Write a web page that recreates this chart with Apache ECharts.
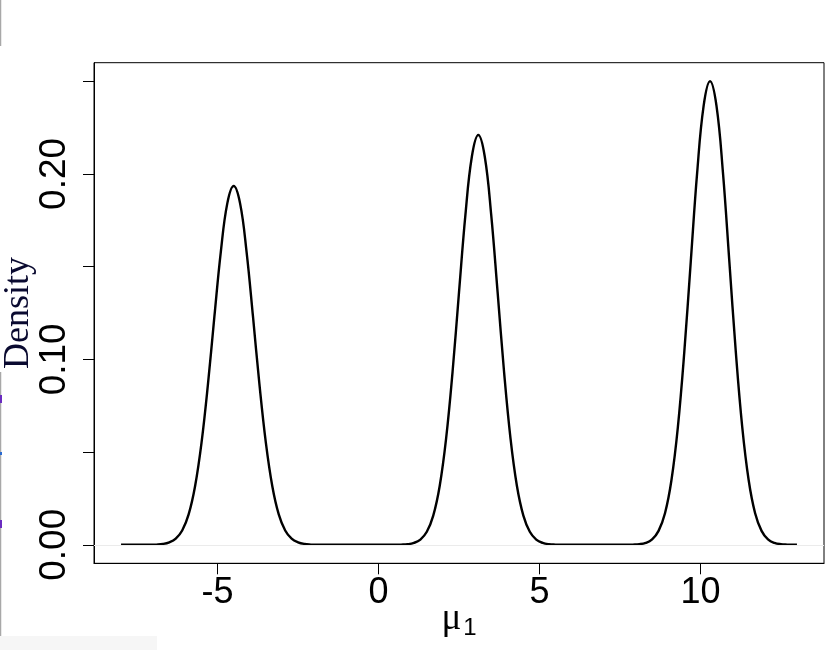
<!DOCTYPE html>
<html>
<head>
<meta charset="utf-8">
<script src="https://cdn.jsdelivr.net/npm/echarts@6/dist/echarts.min.js"></script>
<style>html,body{margin:0;padding:0;background:#fff;}#c{width:837px;height:650px;}</style>
</head>
<body>
<div id="c"></div>
<script>
// x positions (mu_1) and density values
var muX = [-8.0, -7.5, -7.1, -6.9, -6.7, -6.5, -6.3, -6.1, -5.9, -5.7, -5.5, -5.3, -5.1, -4.9, -4.7, -4.5,
  -4.3, -4.1, -3.9, -3.7, -3.5, -3.3, -3.1, -2.9, -2.7, -2.5, -2.3, -2.1, -1.9, -1.0, 0.0,
  0.5, 0.7, 0.9, 1.1, 1.3, 1.5, 1.7, 1.9, 2.1, 2.3, 2.5, 2.7, 2.9, 3.1,
  3.3, 3.5, 3.7, 3.9, 4.1, 4.3, 4.5, 4.7, 4.9, 5.1, 5.3, 5.5, 5.7, 6.5, 7.2,
  7.7, 7.9, 8.1, 8.3, 8.5, 8.7, 8.9, 9.1, 9.3, 9.5, 9.7, 9.9, 10.1, 10.3,
  10.5, 10.7, 10.9, 11.1, 11.3, 11.5, 11.7, 11.9, 12.1, 12.3, 12.5, 12.7, 12.9, 13.0];
var density = [0, 0, 0, 0.0001, 0.0004, 0.0013, 0.0033, 0.0077, 0.0164, 0.0316, 0.055, 0.0865, 0.123, 0.158, 0.184, 0.1935,
  0.184, 0.158, 0.123, 0.0865, 0.055, 0.0316, 0.0164, 0.0077, 0.0033, 0.0013, 0.0004, 0.0001, 0, 0, 0,
  0, 0.0001, 0.0003, 0.0010, 0.0028, 0.0070, 0.0157, 0.0317, 0.0574, 0.0933, 0.1361, 0.1781, 0.2094, 0.221,
  0.2094, 0.1781, 0.1361, 0.0933, 0.0574, 0.0317, 0.0157, 0.0070, 0.0028, 0.0010, 0.0003, 0.0001, 0, 0, 0,
  0, 0.0001, 0.0003, 0.0010, 0.0029, 0.0075, 0.0170, 0.0348, 0.0635, 0.104, 0.1526, 0.2008, 0.2367, 0.25,
  0.2367, 0.2008, 0.1526, 0.104, 0.0635, 0.0348, 0.0170, 0.0075, 0.0029, 0.0010, 0.0003, 0.0001, 0, 0];
var xTicks = [-5, 0, 5, 10];
var yTicks = [0, 0.05, 0.10, 0.15, 0.20, 0.25];
var yLabels = [0, 0.10, 0.20];

var pts = muX.map(function (x, i) { return [x, density[i]]; });
var chart = echarts.init(document.getElementById('c'), null, { renderer: 'canvas' });
chart.setOption({
  animation: false,
  backgroundColor: '#ffffff',
  grid: { left: 94, right: 13, top: 62.7, bottom: 86.7, show: true, borderColor: '#000', borderWidth: 1, outerBoundsMode: 'none', containLabel: false },
  xAxis: {
    type: 'value', min: -8.84, max: 13.84,
    name: '{a|μ}{b|1}', nameLocation: 'middle', nameGap: 37, nameMoveOverlap: false,
    nameTextStyle: {
      rich: {
        a: { fontFamily: 'Liberation Serif', fontSize: 37, color: '#000', lineHeight: 43, verticalAlign: 'top' },
        b: { fontFamily: 'Liberation Sans', fontSize: 24, color: '#000', lineHeight: 43, verticalAlign: 'bottom', padding: [0, 0, 3, 2] }
      }
    },
    axisLine: { show: true, onZero: false, lineStyle: { color: '#000', width: 1 } },
    axisTick: { show: true, inside: false, length: 11, customValues: xTicks, lineStyle: { color: '#000', width: 1 } },
    axisLabel: { show: true, customValues: xTicks, margin: 12, fontFamily: 'Liberation Sans', fontSize: 36, color: '#000' },
    splitLine: { show: false }
  },
  yAxis: {
    type: 'value', min: -0.01, max: 0.26,
    name: 'Density', nameLocation: 'middle', nameRotate: 90, nameGap: 57, nameMoveOverlap: false,
    nameTextStyle: { fontFamily: 'Liberation Serif', fontSize: 36, color: '#0a0a30' },
    axisLine: { show: true, onZero: false, lineStyle: { color: '#000', width: 1 } },
    axisTick: { show: true, inside: false, length: 11, customValues: yTicks, lineStyle: { color: '#000', width: 1 } },
    axisLabel: { show: true, customValues: yLabels, rotate: 90, margin: 21, fontFamily: 'Liberation Sans', fontSize: 37, color: '#000',
      formatter: function (v) { return v.toFixed(2); } },
    splitLine: { show: false }
  },
  series: [{
    type: 'line', data: pts, smooth: 0.4, showSymbol: false, symbol: 'none',
    lineStyle: { color: '#000', width: 2.4 },
    markLine: { silent: true, symbol: 'none', label: { show: false },
      lineStyle: { color: '#ebebeb', width: 1, type: 'solid' }, data: [{ yAxis: 0 }] },
    z: 3
  }],
  graphic: [
    { type: 'line', shape: { x1: 0.5, y1: 0, x2: 0.5, y2: 46 }, style: { stroke: '#a8a8a8', lineWidth: 1.5 } },
    { type: 'line', shape: { x1: 0.5, y1: 372, x2: 0.5, y2: 650 }, style: { stroke: '#a8a8a8', lineWidth: 1.5 } },
    { type: 'rect', shape: { x: 0, y: 395, width: 2, height: 8 }, style: { fill: '#6a2cc0' } },
    { type: 'rect', shape: { x: 0, y: 452, width: 2, height: 3 }, style: { fill: '#2a6ad0' } },
    { type: 'rect', shape: { x: 0, y: 520, width: 2, height: 8 }, style: { fill: '#6a2cc0' } },
    { type: 'rect', shape: { x: 0, y: 636, width: 157, height: 14 }, style: { fill: '#f6f6f6' } }
  ]
});
</script>
</body>
</html>
